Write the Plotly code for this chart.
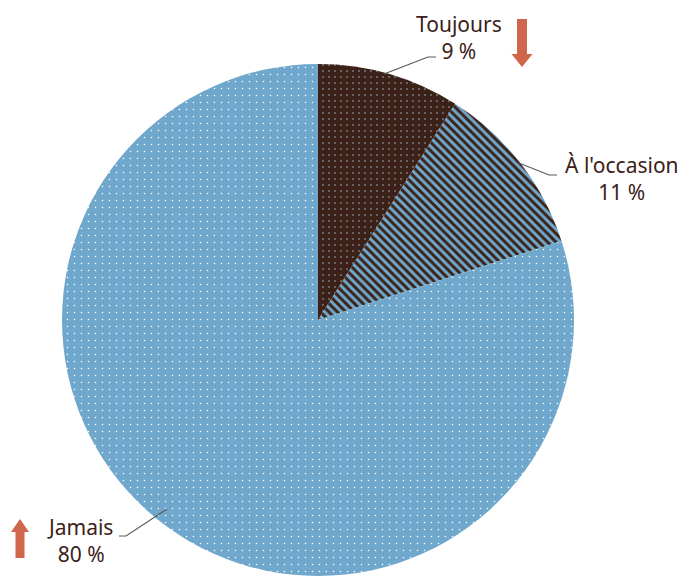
import plotly.graph_objects as go

labels = ["Toujours", "À l'occasion", "Jamais"]
values = [9, 11, 80]
pct_text = ["9 %", "11 %", "80 %"]

W, H = 689, 577
BROWN = "#3b2117"
BLUE = "#6fa8cc"
ORANGE = "#d0674c"
TXT = "#3b2117"

# page body adds an 8px margin; compensate so the picture lines up
OFF = 8

def px(x):
    return (x - OFF) / W

def py(y):
    return 1 - (y - OFF) / H

cx, cy, r = 318, 320, 256

fig = go.Figure(go.Pie(
    labels=labels,
    values=values,
    sort=False,
    direction="clockwise",
    rotation=0,
    textinfo="none",
    showlegend=False,
    marker=dict(
        colors=[BROWN, BLUE, BLUE],
        line=dict(width=0),
        pattern=dict(
            shape=[".", "\\", "."],
            bgcolor=[BROWN, BLUE, BLUE],
            fgcolor=["#9fb8c8", BROWN, "#ffffff"],
            fillmode="replace",
            size=[6, 6, 7],
            solidity=[0.06, 0.48, 0.04],
        ),
    ),
    domain=dict(x=[px(cx - r), px(cx + r)], y=[py(cy + r), py(cy - r)]),
))

font = dict(family="Noto Sans, sans-serif", size=21, color=TXT)

# labels (name + percentage): (x, y, yanchor)
label_pos = [(459, 8, "top"), (622, 179, "middle"), (80, 540, "middle")]
for (x, y, ya), name, pct in zip(label_pos, labels, pct_text):
    fig.add_annotation(x=px(x), y=py(y), xref="paper", yref="paper",
                       text=f"{name}<br>{pct}", showarrow=False, font=font,
                       align="center", xanchor="center", yanchor=ya)

# leader lines
leaders = [
    [(384, 74), (428, 57), (436, 57)],
    [(519, 163), (549, 175), (557, 175)],
    [(167, 509), (126, 536), (119, 536)],
]
for pts in leaders:
    path = "M " + " L ".join(f"{px(x)},{py(y)}" for x, y in pts)
    fig.add_shape(type="path", path=path, xref="paper", yref="paper",
                  line=dict(color="#595959", width=1.2))

# arrows (down near Toujours, up near Jamais)
def arrow_path(xc, y_tail, y_tip, shaft=10, head=21, head_len=13):
    d = 1 if y_tip > y_tail else -1
    yb = y_tip - d * head_len
    pts = [(xc - shaft / 2, y_tail), (xc + shaft / 2, y_tail), (xc + shaft / 2, yb),
           (xc + head / 2, yb), (xc, y_tip), (xc - head / 2, yb), (xc - shaft / 2, yb)]
    return "M " + " L ".join(f"{px(x)},{py(y)}" for x, y in pts) + " Z"

fig.add_shape(type="path", path=arrow_path(522, 19, 67), xref="paper", yref="paper",
              fillcolor=ORANGE, line=dict(width=0))
fig.add_shape(type="path", path=arrow_path(20, 558, 519, shaft=9, head=18, head_len=13),
              xref="paper", yref="paper", fillcolor=ORANGE, line=dict(width=0))

fig.update_layout(width=W, height=H, margin=dict(l=0, r=0, t=0, b=0),
                  paper_bgcolor="white", plot_bgcolor="white")

fig.write_html("out.html")
